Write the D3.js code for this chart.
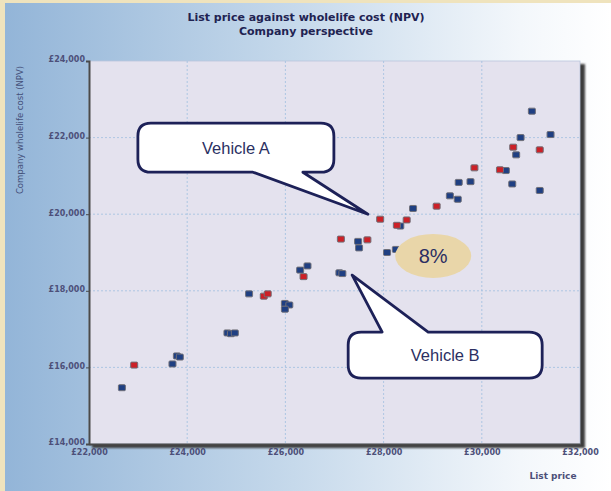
<!DOCTYPE html>
<html>
<head>
<meta charset="utf-8">
<script src="https://cdn.jsdelivr.net/npm/d3@7"></script>
<style>
  html, body { margin: 0; padding: 0; background: #efe3bd; }
  svg { display: block; }
</style>
</head>
<body>
<svg id="chart" width="611" height="491"></svg>
<script>
// List price (x) and company wholelife cost NPV (y), one pair per vehicle
const bluePrice = [22670, 23700, 23790, 23850, 24820, 24890, 24970, 25260, 25990, 26080,
  25990, 26300, 26450, 27100, 27160, 27480, 27500, 28340, 28600, 28070, 28250, 29350,
  29510, 29530, 29770, 30490, 30620, 30700, 30790, 31020, 31400, 31180];
const blueCost = [15470, 16090, 16300, 16270, 16900, 16880, 16900, 17920, 17670, 17630,
  17520, 18540, 18650, 18470, 18450, 19290, 19120, 19690, 20150, 19000, 19080, 20480,
  20390, 20830, 20850, 21140, 20790, 21550, 22000, 22690, 22080, 20620];
const redPrice = [22920, 25560, 25640, 26370, 27130, 27670, 27930, 28270, 28470, 29080,
  29850, 30370, 30640, 31180];
const redCost = [16060, 17860, 17920, 18370, 19350, 19330, 19870, 19710, 19850, 20210,
  21210, 21160, 21750, 21680];

const xTicks = [22000, 24000, 26000, 28000, 30000, 32000];
const yTicks = [14000, 16000, 18000, 20000, 22000, 24000];

const titleLines = ["List price against wholelife cost (NPV)", "Company perspective"];
const xTitle = "List price";
const yTitle = "Company wholelife cost (NPV)";

// Callout labels, each pointing at a position in data space
const calloutLabels = ["Vehicle A", "Vehicle B"];
const calloutTipPrice = [27680, 27360];
const calloutTipCost = [20000, 18410];
const gapLabel = "8%";
const gapPrice = 29010;
const gapCost = 18910;

const W = 611, H = 491;
const plot = { left: 89, right: 580, top: 61, bottom: 444 };

const svg = d3.select("#chart");
const defs = svg.append("defs");

const bg = defs.append("linearGradient").attr("id", "panelBg")
  .attr("x1", "0%").attr("x2", "100%").attr("y1", "0%").attr("y2", "0%");
bg.append("stop").attr("offset", "0%").attr("stop-color", "#93b5d8");
bg.append("stop").attr("offset", "45%").attr("stop-color", "#c3d7ea");
bg.append("stop").attr("offset", "85%").attr("stop-color", "#f3f7fb");
bg.append("stop").attr("offset", "100%").attr("stop-color", "#ffffff");

defs.append("filter").attr("id", "soft")
  .attr("x", "-5%").attr("y", "-5%").attr("width", "110%").attr("height", "110%")
  .append("feGaussianBlur").attr("stdDeviation", 1.3);

// Page frame and gradient panel
svg.append("rect").attr("width", W).attr("height", H).attr("fill", "#efe3bd");
svg.append("rect").attr("x", 5).attr("y", 3).attr("width", W - 5).attr("height", H - 3)
  .attr("fill", "url(#panelBg)");

// Titles
svg.append("g").selectAll("text").data(titleLines).join("text")
  .attr("x", 306).attr("y", (d, i) => 21 + i * 14)
  .attr("text-anchor", "middle")
  .attr("font-family", "DejaVu Sans, Verdana, sans-serif")
  .attr("font-weight", "bold").attr("font-size", 11)
  .attr("fill", "#1f2352")
  .text(d => d);

const x = d3.scaleLinear().domain([22000, 32000]).range([plot.left, plot.right]);
const y = d3.scaleLinear().domain([14000, 24000]).range([plot.bottom, plot.top]);

// Plot panel with drop shadow
svg.append("rect")
  .attr("x", plot.left + 3).attr("y", plot.top + 3)
  .attr("width", plot.right - plot.left + 2).attr("height", plot.bottom - plot.top + 1)
  .attr("fill", "#3c3c3c").attr("filter", "url(#soft)");
svg.append("rect")
  .attr("x", plot.left).attr("y", plot.top)
  .attr("width", plot.right - plot.left).attr("height", plot.bottom - plot.top)
  .attr("fill", "#e4e2ee").attr("stroke", "#b9c6dc").attr("stroke-width", 0.8);

// Dotted grid
const grid = svg.append("g").attr("stroke", "#9fbfe0").attr("stroke-width", 0.8)
  .attr("stroke-dasharray", "2,2");
grid.selectAll("line.v").data(xTicks.slice(1, -1)).join("line").attr("class", "v")
  .attr("x1", d => x(d)).attr("x2", d => x(d))
  .attr("y1", plot.top).attr("y2", plot.bottom);
grid.selectAll("line.h").data(yTicks.slice(1, -1)).join("line").attr("class", "h")
  .attr("y1", d => y(d)).attr("y2", d => y(d))
  .attr("x1", plot.left).attr("x2", plot.right);

// Axes
const fmt = d => "£" + d3.format(",")(d);
const xAxis = svg.append("g").attr("transform", `translate(0,${plot.bottom})`)
  .call(d3.axisBottom(x).tickValues(xTicks).tickFormat(fmt).tickSize(0).tickPadding(5));
const yAxis = svg.append("g").attr("transform", `translate(${plot.left},0)`)
  .call(d3.axisLeft(y).tickValues(yTicks).tickFormat(fmt).tickSize(3).tickPadding(1));
[xAxis, yAxis].forEach(a => {
  a.select(".domain").attr("stroke", "#4a4a4a").attr("stroke-width", 2);
  a.selectAll("text")
    .attr("font-family", "DejaVu Sans, Verdana, sans-serif")
    .attr("font-weight", "bold").attr("font-size", 8)
    .attr("fill", "#4d5079");
});
yAxis.selectAll(".tick line").attr("stroke", "#4a4a4a");
yAxis.selectAll(".tick text").attr("dy", "0.1em");

svg.append("text")
  .attr("transform", "translate(23,130) rotate(-90)")
  .attr("text-anchor", "middle")
  .attr("font-family", "DejaVu Sans, Verdana, sans-serif")
  .attr("font-size", 8.5).attr("fill", "#44507a")
  .text(yTitle);
svg.append("text")
  .attr("x", 553).attr("y", 479).attr("text-anchor", "middle")
  .attr("font-family", "DejaVu Sans, Verdana, sans-serif")
  .attr("font-weight", "bold").attr("font-size", 9).attr("fill", "#4d5079")
  .text(xTitle);

// Markers
const blue = bluePrice.map((p, i) => ({ price: p, cost: blueCost[i] }));
const red = redPrice.map((p, i) => ({ price: p, cost: redCost[i] }));
const markers = svg.append("g");
[[blue, "#1f3f82"], [red, "#cc2027"]].forEach(([data, color]) => {
  markers.append("g").selectAll("rect").data(data).join("rect")
    .attr("x", d => x(d.price) - 3.5).attr("y", d => y(d.cost) - 3)
    .attr("width", 7).attr("height", 6).attr("rx", 1)
    .attr("fill", color).attr("stroke", "#6f6f78").attr("stroke-width", 1);
});

// Speech-bubble callouts
function bubble(x0, y0, x1, y1, r, side, b0, b1, tx, ty) {
  const p = d3.path();
  p.moveTo(x0 + r, y0);
  if (side === "top") { p.lineTo(b0, y0); p.lineTo(tx, ty); p.lineTo(b1, y0); }
  p.lineTo(x1 - r, y0);
  p.quadraticCurveTo(x1, y0, x1, y0 + r);
  p.lineTo(x1, y1 - r);
  p.quadraticCurveTo(x1, y1, x1 - r, y1);
  if (side === "bottom") { p.lineTo(b1, y1); p.lineTo(tx, ty); p.lineTo(b0, y1); }
  p.lineTo(x0 + r, y1);
  p.quadraticCurveTo(x0, y1, x0, y1 - r);
  p.lineTo(x0, y0 + r);
  p.quadraticCurveTo(x0, y0, x0 + r, y0);
  p.closePath();
  return p.toString();
}

// Box geometry relative to each callout's tip
const bubbleGeom = [
  { dx0: -230, dy0: -91, dx1: -34, dy1: -42, side: "bottom", b0: -115, b1: -65 },
  { dx0: -4, dy0: 57, dx1: 190, dy1: 103, side: "top", b0: 30, b1: 76 }
];
const callouts = svg.append("g");
calloutLabels.forEach((label, i) => {
  const tx = x(calloutTipPrice[i]), ty = y(calloutTipCost[i]);
  const g = bubbleGeom[i];
  const x0 = tx + g.dx0, y0 = ty + g.dy0, x1 = tx + g.dx1, y1 = ty + g.dy1;
  const b0 = tx + g.b0, b1 = tx + g.b1;
  const by = g.side === "bottom" ? y1 : y0;
  callouts.append("path")
    .attr("d", bubble(x0, y0, x1, y1, 13, g.side, b0, b1, tx, ty))
    .attr("fill", "#ffffff").attr("stroke", "#1d2158")
    .attr("stroke-width", 2.8).attr("stroke-linejoin", "round");
  callouts.append("text")
    .attr("x", (x0 + x1) / 2).attr("y", (y0 + y1) / 2 + 6)
    .attr("text-anchor", "middle")
    .attr("font-family", "Liberation Sans, Arial, sans-serif")
    .attr("font-size", 16.5).attr("fill", "#2b2f62")
    .text(label);
});

// Gap marker
const gx = x(gapPrice), gy = y(gapCost);
svg.append("ellipse").attr("cx", gx).attr("cy", gy).attr("rx", 38).attr("ry", 22)
  .attr("fill", "#e9d6a9");
svg.append("text").attr("x", gx).attr("y", gy + 7).attr("text-anchor", "middle")
  .attr("font-family", "Liberation Sans, Arial, sans-serif")
  .attr("font-size", 20).attr("fill", "#2b2f62")
  .text(gapLabel);
</script>
</body>
</html>
